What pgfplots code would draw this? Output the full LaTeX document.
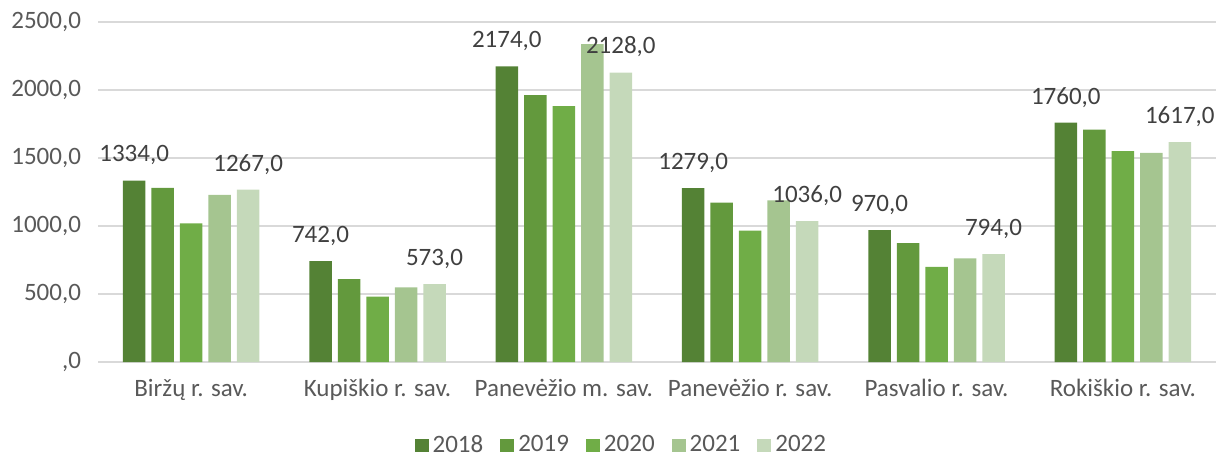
\documentclass[border=0pt]{standalone}
\usepackage{pgfplots}
\pgfplotsset{compat=1.18}
\usepackage{fontspec}
\setmainfont{Carlito}
\definecolor{c18}{HTML}{548235}
\definecolor{c19}{HTML}{63993D}
\definecolor{c20}{HTML}{70AD47}
\definecolor{c21}{HTML}{A5C590}
\definecolor{c22}{HTML}{C5D9BA}
\definecolor{tgray}{HTML}{595959}
\definecolor{lgray}{HTML}{404040}
\definecolor{gridc}{HTML}{D9D9D9}
\newcommand{\fs}{\fontsize{12.5}{15}\selectfont}
\begin{document}
\begin{tikzpicture}
\begin{axis}[
  name=ax,
  scale only axis,
  width=559pt, height=170pt,
  xmin=-0.5, xmax=5.5,
  ymin=0, ymax=2500,
  ybar=3pt,
  bar width=11.25pt,
  xtick={0,1,2,3,4,5},
  xticklabels={Biržų r. sav., Kupiškio r. sav., Panevėžio m. sav., Panevėžio r. sav., Pasvalio r. sav., Rokiškio r. sav.},
  ytick={0,500,1000,1500,2000,2500},
  yticklabels={{,0},{500,0},{1000,0},{1500,0},{2000,0},{2500,0}},
  xmajorgrids=false,
  ymajorgrids=true,
  grid style={draw=gridc, line width=0.75pt},
  axis x line*=bottom,
  axis y line*=left,
  x axis line style={draw=gridc, line width=0.75pt, -},
  y axis line style={draw=none},
  major tick length=0pt,
  xtick style={draw=none},
  ytick style={draw=none},
  ticklabel style={font=\fs, text=tgray},
  yticklabel style={xshift=-5pt},
  xticklabel style={yshift=-5pt},
  /pgf/number format/.cd, use comma, 1000 sep={}, fixed, fixed zerofill, precision=1, assume math mode=true,
  /pgfplots/.cd,
  every node near coord/.append style={font=\fs, text=lgray, inner sep=0pt, yshift=7.5pt},
  legend columns=5,
  legend style={at={(0.469,-0.245)}, anchor=center, draw=none, fill=none,
    font=\fs, text=tgray,
    /tikz/every even column/.append style={column sep=6.5pt}},
  legend image code/.code={\fill[#1] (0pt,-3.25pt) rectangle (7pt,3.25pt);},
]
\addplot[fill=c18, draw=none, nodes near coords] coordinates {(0,1334) (1,742) (2,2174) (3,1279) (4,970) (5,1760)};
\addplot[fill=c19, draw=none] coordinates {(0,1280) (1,610) (2,1963) (3,1172) (4,875) (5,1708)};
\addplot[fill=c20, draw=none] coordinates {(0,1020) (1,480) (2,1882) (3,966) (4,699) (5,1551)};
\addplot[fill=c21, draw=none] coordinates {(0,1228) (1,549) (2,2338) (3,1189) (4,762) (5,1537)};
\addplot[fill=c22, draw=none, nodes near coords] coordinates {(0,1267) (1,573) (2,2128) (3,1036) (4,794) (5,1617)};
\legend{2018,2019,2020,2021,2022}
\end{axis}
\pgfresetboundingbox
\path ([shift={(-49pt,-47pt)}]ax.south west) rectangle ([shift={(1pt,11pt)}]ax.north east);
\end{tikzpicture}
\end{document}
